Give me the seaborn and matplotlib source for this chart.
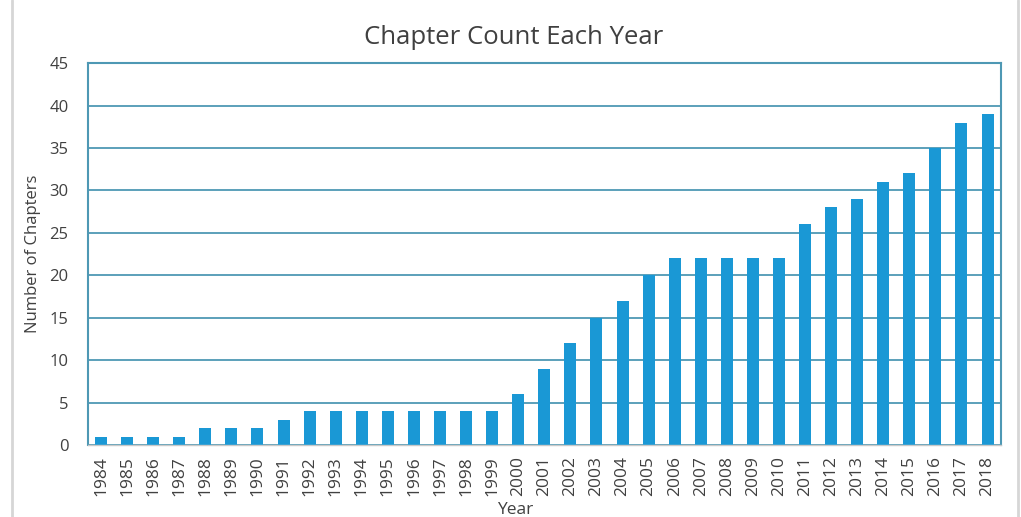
import matplotlib
matplotlib.use('Agg')
import matplotlib.pyplot as plt
import seaborn as sns
import pandas as pd

years = [str(y) for y in range(1984, 2019)]
chapters = [1, 1, 1, 1, 2, 2, 2, 3, 4, 4, 4, 4, 4, 4, 4, 4, 6, 9, 12, 15, 17,
            20, 22, 22, 22, 22, 22, 26, 28, 29, 31, 32, 35, 38, 39]

sns.set_style('white')
plt.rcParams['font.family'] = ['Open Sans', 'DejaVu Sans']

df = pd.DataFrame({'Year': years, 'Chapters': chapters})

fig = plt.figure(figsize=(10.21, 5.17), dpi=100)
ax = fig.add_axes([0.0862, 0.139, 0.8938, 0.739])

sns.barplot(data=df, x='Year', y='Chapters', color='#1a98d5', saturation=1,
            width=0.46, linewidth=0, ax=ax)

grid_color = '#4e98b4'
ax.set_axisbelow(True)
ax.set_ylim(0, 45)
ax.set_yticks(range(0, 46, 5))
ax.yaxis.grid(True, color=grid_color, linewidth=1.3)
ax.set_xlim(-0.5, len(years) - 0.5)
for side in ['top', 'left', 'right']:
    ax.spines[side].set_color(grid_color)
    ax.spines[side].set_linewidth(1.5)
ax.spines['bottom'].set_color('#c9c9c9')
ax.spines['bottom'].set_linewidth(1.0)

ax.tick_params(axis='x', rotation=90, labelsize=12.5, colors='#404040', length=0, pad=8)
ax.tick_params(axis='y', labelsize=12, colors='#404040', length=0, pad=14)
ax.set_xlabel('Year', fontsize=12.5, color='#404040')
ax.xaxis.set_label_coords(0.468, -0.148)
ax.set_ylabel('Number of Chapters', fontsize=12, color='#404040', labelpad=6)
ax.set_title('Chapter Count Each Year', fontsize=18.5, color='#404040', pad=14, x=0.466)

# outer frame lines of the pasted chart
fig.add_artist(plt.Line2D([0.012, 0.012], [0.0, 1.0], color='#d6d6d6', linewidth=2))
fig.add_artist(plt.Line2D([0.997, 0.997], [0.0, 1.0], color='#d6d6d6', linewidth=2))

fig.savefig('out.png', dpi=100)
